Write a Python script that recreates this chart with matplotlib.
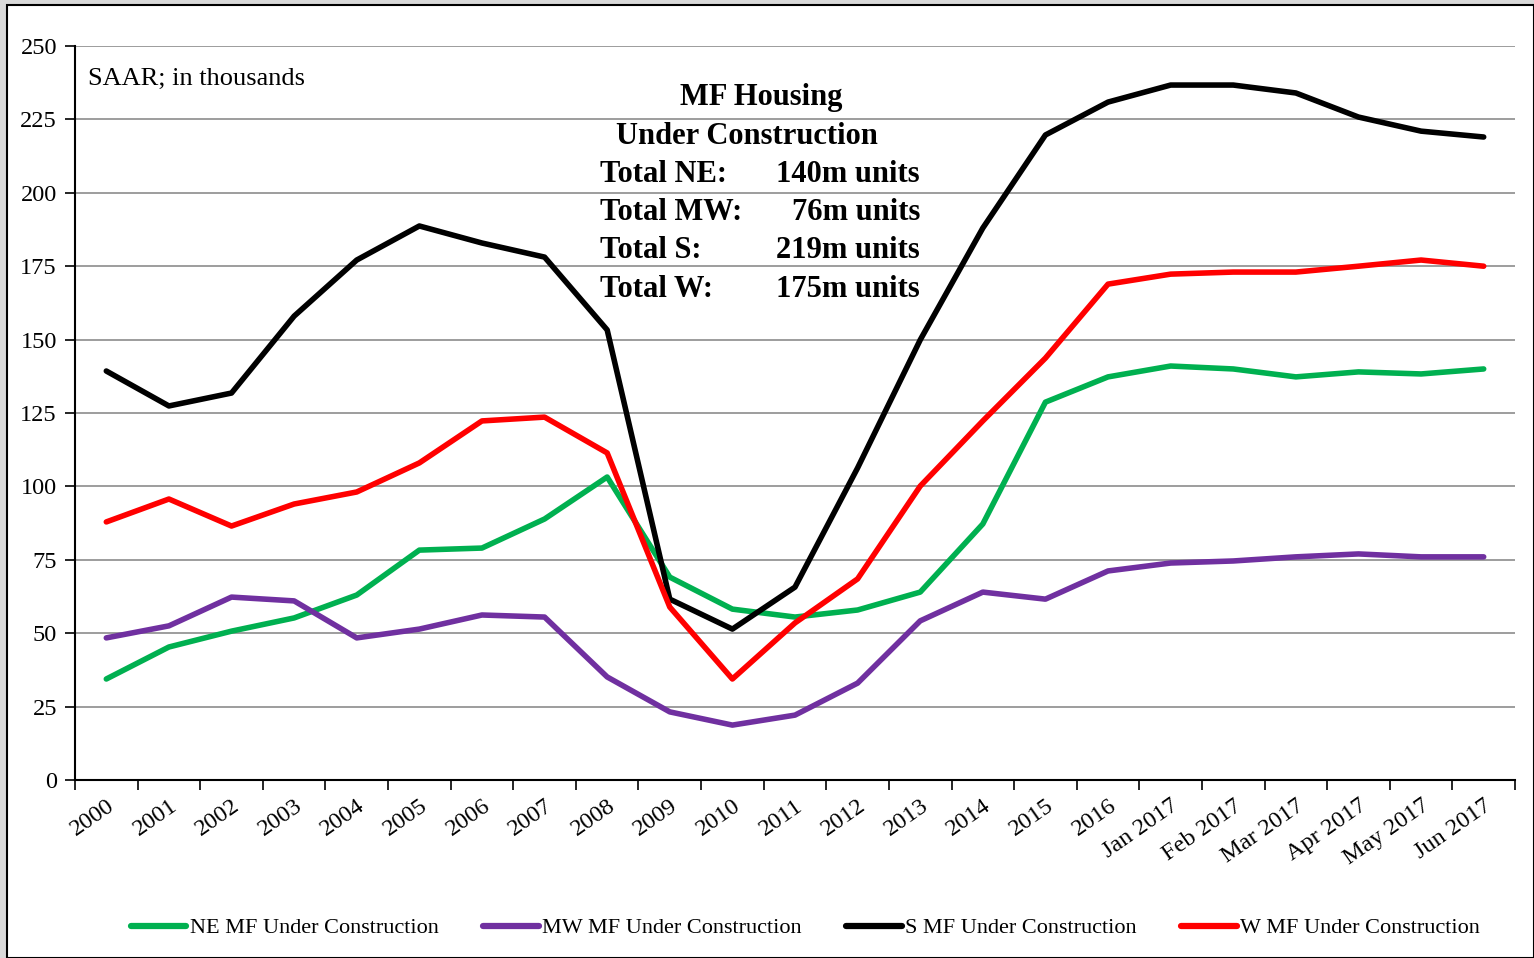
import matplotlib
matplotlib.use("Agg")
from matplotlib import pyplot as plt
from matplotlib.patches import Rectangle

plt.rcParams['font.family'] = ['Liberation Serif', 'DejaVu Serif']

labels = [str(y) for y in range(2000, 2017)] + \
    ["Jan 2017", "Feb 2017", "Mar 2017", "Apr 2017", "May 2017", "Jun 2017"]

ne = [34.4, 45.3, 50.7, 55.2, 63.0, 78.3, 79.0, 88.9, 103.2, 69.1, 58.2, 55.5,
      57.9, 64.0, 87.2, 128.7, 137.3, 141.0, 140.0, 137.3, 139.0, 138.3, 140.0]
mw = [48.4, 52.5, 62.3, 61.0, 48.4, 51.4, 56.2, 55.5, 35.1, 23.2, 18.7, 22.1,
      33.0, 54.2, 64.0, 61.6, 71.2, 73.9, 74.6, 76.0, 77.0, 76.0, 76.0]
s = [139.3, 127.4, 131.8, 158.0, 177.1, 188.7, 182.9, 178.1, 153.3, 61.6, 51.4,
     65.7, 106.3, 149.9, 188.0, 219.7, 230.9, 236.7, 236.7, 234.0, 225.8, 221.0, 219.0]
w = [87.9, 95.7, 86.5, 94.0, 98.1, 108.0, 122.3, 123.6, 111.4, 58.9, 34.4, 53.5,
     68.5, 100.1, 122.3, 143.7, 168.9, 172.3, 173.0, 173.0, 175.0, 177.1, 175.0]

series = [
    ("NE MF Under Construction", ne, "#00b050"),
    ("MW MF Under Construction", mw, "#7030a0"),
    ("S MF Under Construction", s, "#000000"),
    ("W MF Under Construction", w, "#ff0000"),
]

totals = [("Total NE:", "140m units"), ("Total MW:", "76m units"),
          ("Total S:", "219m units"), ("Total W:", "175m units")]

fig = plt.figure(figsize=(15.34, 9.58), dpi=100)
fig.patch.set_facecolor("#d9d9d9")
fig.patches.append(Rectangle((7 / 1534, 0), 1 - 7 / 1534, 1 - 5 / 958,
                             transform=fig.transFigure, facecolor="white",
                             edgecolor="black", linewidth=1.5, zorder=-10))

ax = fig.add_axes([75 / 1534, 1 - 780 / 958, 1440 / 1534, 734 / 958])
ax.set_facecolor("white")
x = [i + 0.5 for i in range(len(labels))]
for name, vals, col in series:
    ax.plot(x, vals, color=col, lw=4.0, label=name, solid_capstyle="round",
            solid_joinstyle="round")

ax.set_xlim(0, len(labels))
ax.set_ylim(0, 250)
ax.set_yticks(range(0, 251, 25))
ax.grid(axis="y", color="#8c8c8c", lw=1.2)
ax.set_axisbelow(True)
ax.set_xticks(range(len(labels) + 1))
ax.set_xticklabels([])
ax.set_xticks(x, minor=True)
ax.set_xticklabels(labels, minor=True, rotation=35, ha="right",
                   rotation_mode="anchor", fontsize=17.5)
ax.tick_params(axis="x", which="minor", length=0, pad=11)
ax.tick_params(axis="x", which="major", length=7, width=1.2, direction="out")
ax.tick_params(axis="y", length=7, width=1.2, labelsize=17.5, pad=6)
for sp in ["top", "right"]:
    ax.spines[sp].set_visible(False)
for sp in ["left", "bottom"]:
    ax.spines[sp].set_linewidth(1.5)

ax.text(0.009, 0.955, "SAAR; in thousands", transform=ax.transAxes,
        fontsize=19, va="center", ha="left")

fx = lambda px: px / 1534
fy = lambda py: 1 - py / 958
fig.text(fx(761), fy(97), "MF Housing", fontsize=22, fontweight="bold",
         ha="center", va="center")
fig.text(fx(747), fy(136), "Under Construction", fontsize=22,
         fontweight="bold", ha="center", va="center")
for i, (lab, val) in enumerate(totals):
    yy = 174 + i * 38.5
    fig.text(fx(600), fy(yy), lab, fontsize=22, fontweight="bold",
             ha="left", va="center")
    fig.text(fx(920), fy(yy), val, fontsize=22, fontweight="bold",
             ha="right", va="center")

leg = fig.legend(loc="center", bbox_to_anchor=(0.525, 1 - 928 / 958), ncol=4,
                 frameon=False, fontsize=16, handlelength=2.5,
                 handletextpad=0.15, columnspacing=2.0)
for h in leg.get_lines():
    h.set_linewidth(4.5)

fig.savefig("out.png", dpi=100, facecolor=fig.get_facecolor())
